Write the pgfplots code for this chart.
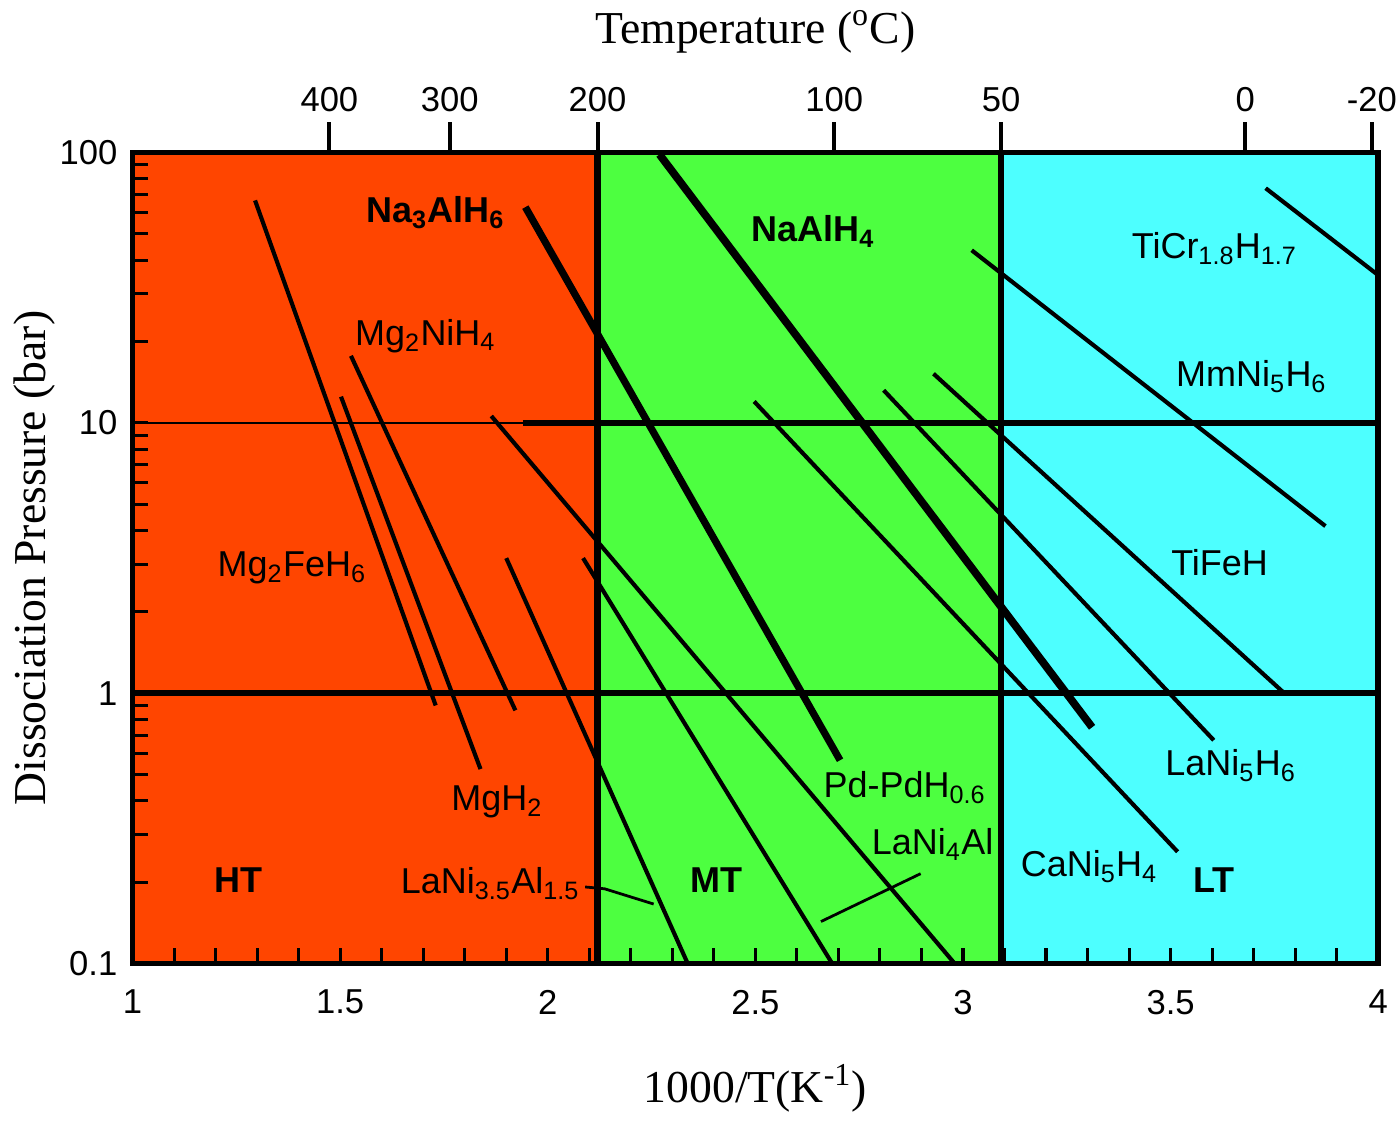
\documentclass[border=0pt]{standalone}
\usepackage{fontspec}
\setmainfont{Liberation Serif}
\setsansfont{Liberation Sans}
\usepackage{pgfplots}
\pgfplotsset{compat=1.18}
\definecolor{htred}{RGB}{255,69,0}
\definecolor{mtgreen}{RGB}{77,255,64}
\definecolor{ltcyan}{RGB}{77,255,255}
\tikzset{lbl/.style={font=\sffamily\fontsize{13}{15}\selectfont},
         blbl/.style={font=\sffamily\bfseries\fontsize{13}{15}\selectfont}}
\begin{document}
\begin{tikzpicture}
\begin{axis}[
  name=main,
  scale only axis, width=450pt, height=293pt,
  xmin=1, xmax=4, ymode=log, ymin=0.1, ymax=100,
  axis on top,
  xtick={1,1.5,2,2.5,3,3.5,4}, xticklabels={1,1.5,2,2.5,3,3.5,4},
  minor x tick num=4,
  ytick={0.1,1,10,100}, yticklabels={0.1,1,10,100},
  tick align=inside,
  major tick length=5.5pt, minor tick length=5.5pt,
  every tick/.style={black, line width=1.1pt},
  xtick pos=bottom, ytick pos=left,
  axis line style={line width=2pt},
  ticklabel style={font=\sffamily\fontsize{12.5}{14}\selectfont},
  xticklabel style={yshift=-6pt},
  yticklabel style={xshift=-2pt},
  xlabel={1000/T(K\textsuperscript{-1})},
  ylabel={Dissociation Pressure (bar)},
  label style={font=\fontsize{16.5}{18}\selectfont},
  xlabel style={at={(axis description cs:0.5,-0.1536)}, anchor=center},
  ylabel style={at={(axis description cs:-0.0784,0.5)}, anchor=center},
]
% regions
\addplot[fill=htred, draw=none] coordinates {(1,0.1)(1,100)(2.12,100)(2.12,0.1)} --cycle;
\addplot[fill=mtgreen, draw=none] coordinates {(2.12,0.1)(2.12,100)(3.092,100)(3.092,0.1)} --cycle;
\addplot[fill=ltcyan, draw=none] coordinates {(3.092,0.1)(3.092,100)(4,100)(4,0.1)} --cycle;
% boundaries
\addplot[black, line width=2.4pt] coordinates {(2.12,0.1)(2.12,100)};
\addplot[black, line width=2.4pt] coordinates {(3.092,0.1)(3.092,100)};
\addplot[black, line width=0.8pt] coordinates {(1,10)(1.94,10)};
\addplot[black, line width=2pt] coordinates {(1.94,10)(4,10)};
\addplot[black, line width=2.2pt] coordinates {(1,1)(4,1)};
% van 't Hoff lines
\addplot[black, line width=1.5pt] coordinates {(1.295,66.5)(1.730,0.901)};
\addplot[black, line width=1.5pt] coordinates {(1.502,12.5)(1.838,0.524)};
\addplot[black, line width=1.5pt] coordinates {(1.526,17.7)(1.922,0.864)};
\addplot[black, line width=1.5pt] coordinates {(1.864,10.6)(2.980,0.1)};
\addplot[black, line width=1.5pt] coordinates {(1.900,3.16)(2.337,0.1)};
\addplot[black, line width=1.5pt] coordinates {(2.085,3.16)(2.685,0.1)};
\addplot[black, line width=2.6pt] coordinates {(1.946,62.8)(2.704,0.565)};
\addplot[black, line width=2.8pt] coordinates {(2.269,98.4)(3.311,0.748)};
\addplot[black, line width=1.5pt] coordinates {(2.497,12.0)(3.517,0.259)};
\addplot[black, line width=1.5pt] coordinates {(2.809,13.2)(3.604,0.670)};
\addplot[black, line width=1.5pt] coordinates {(2.929,15.2)(3.777,0.99)};
\addplot[black, line width=1.5pt] coordinates {(3.021,43.5)(3.873,4.15)};
\addplot[black, line width=1.5pt] coordinates {(3.729,73.8)(4.0,35.2)};
% pointers
\addplot[black, line width=1pt] coordinates {(2.090,0.192)(2.137,0.189)(2.255,0.166)};
\addplot[black, line width=1pt] coordinates {(2.898,0.215)(2.658,0.143)};
% labels
\node[blbl] at (axis cs:1.7295,60.1) {Na\textsubscript{3}AlH\textsubscript{6}};
\node[blbl] at (axis cs:2.639,51.2) {NaAlH\textsubscript{4}};
\node[lbl] at (axis cs:1.7055,21.0) {Mg\textsubscript{2}NiH\textsubscript{4}};
\node[lbl] at (axis cs:3.606,44.0) {TiCr\textsubscript{1.8}H\textsubscript{1.7}};
\node[lbl] at (axis cs:3.695,14.8) {MmNi\textsubscript{5}H\textsubscript{6}};
\node[lbl] at (axis cs:1.384,2.90) {Mg\textsubscript{2}FeH\textsubscript{6}};
\node[lbl] at (axis cs:3.618,3.03) {TiFeH};
\node[lbl] at (axis cs:3.645,0.54) {LaNi\textsubscript{5}H\textsubscript{6}};
\node[lbl] at (axis cs:2.860,0.449) {Pd-PdH\textsubscript{0.6}};
\node[lbl] at (axis cs:1.878,0.396) {MgH\textsubscript{2}};
\node[lbl] at (axis cs:2.927,0.275) {LaNi\textsubscript{4}Al};
\node[lbl] at (axis cs:1.8615,0.197) {LaNi\textsubscript{3.5}Al\textsubscript{1.5}};
\node[lbl] at (axis cs:3.304,0.228) {CaNi\textsubscript{5}H\textsubscript{4}};
\node[blbl] at (axis cs:1.254,0.204) {HT};
\node[blbl] at (axis cs:2.406,0.204) {MT};
\node[blbl] at (axis cs:3.604,0.204) {LT};
\end{axis}
\begin{axis}[
  scale only axis, width=450pt, height=293pt,
  xmin=1, xmax=4, ymin=0, ymax=1,
  axis x line*=top, axis y line=none,
  xtick={1.474,1.764,2.12,2.69,3.092,3.68,3.985},
  xticklabels={400,300,200,100,50,0,-20},
  tick align=outside, major tick length=11pt,
  every tick/.style={black, line width=1.5pt},
  axis line style={line width=2pt, -},
  ticklabel style={font=\sffamily\fontsize{12.5}{14}\selectfont, overlay},
  xlabel={Temperature (\textsuperscript{o}C)},
  label style={font=\fontsize{16.5}{18}\selectfont},
  xlabel style={at={(axis description cs:0.5,1.1486)}, anchor=center},
]
\end{axis}
\path ([shift={(-47.9pt,-54.4pt)}]main.south west) rectangle ([shift={(5pt,55.1pt)}]main.north east);
\end{tikzpicture}
\end{document}
